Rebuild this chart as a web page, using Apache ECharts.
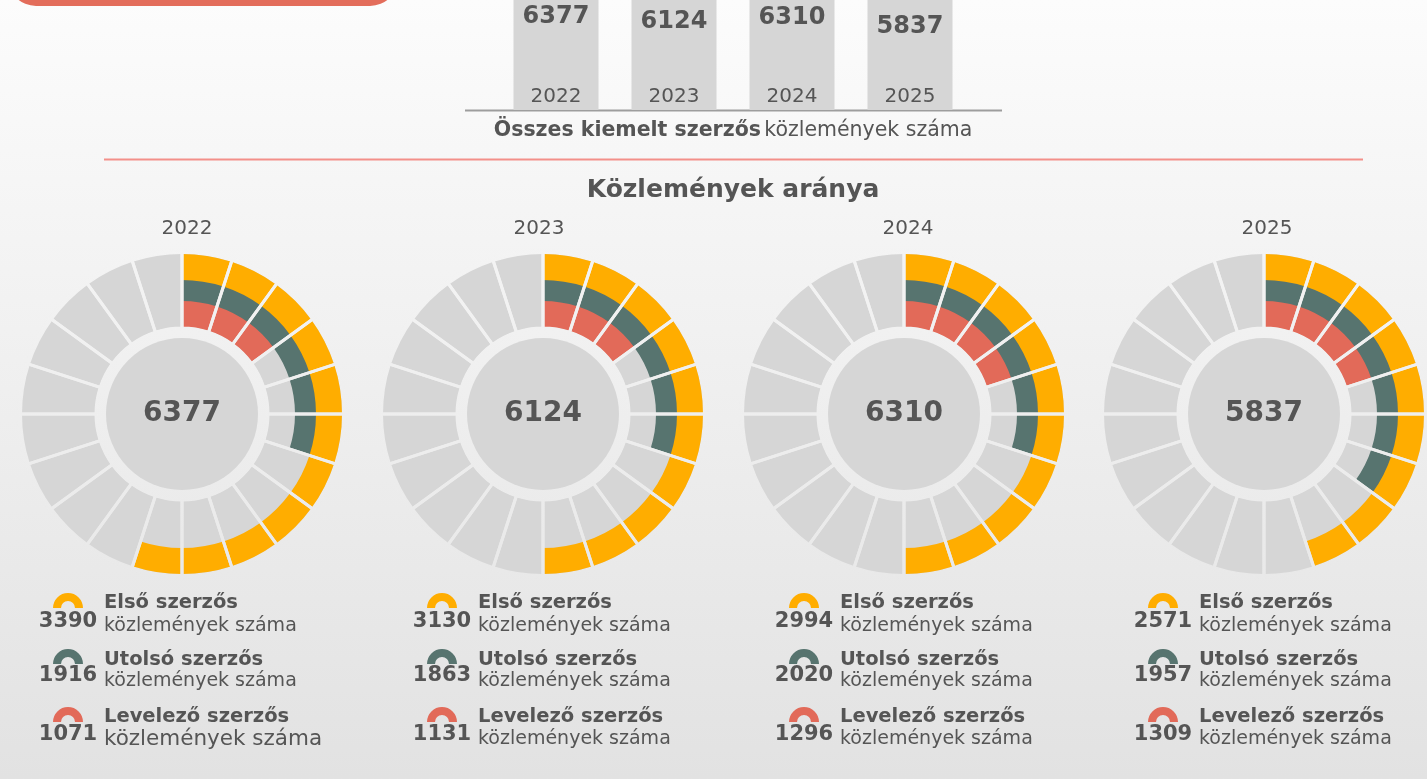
<!DOCTYPE html>
<html>
<head>
<meta charset="utf-8">
<script src="https://cdn.jsdelivr.net/npm/echarts@6/dist/echarts.min.js"></script>
<style>
  html, body { margin: 0; padding: 0; }
  body { background: linear-gradient(#fcfcfc, #e2e2e2); }
  #chart { width: 1427px; height: 779px; }
</style>
</head>
<body>
<div id="chart"></div>
<script>
const years = ['2022', '2023', '2024', '2025']
const totals = [6377, 6124, 6310, 5837]
const firstAuthor = [3390, 3130, 2994, 2571]
const lastAuthor = [1916, 1863, 2020, 1957]
const corrAuthor = [1071, 1131, 1296, 1309]
// filled segments (out of 20) in each ring, as drawn in the picture
const firstSegs = [11, 10, 10, 9]
const lastSegs = [6, 6, 6, 7]
const corrSegs = [3, 3, 4, 4]
const segCount = 20

const FONT = 'DejaVu Sans'
const TXT = '#555555'
const ORANGE = '#ffad00'
const TEAL = '#57746f'
const RED = '#e26a59'
const GRAY = '#d6d6d6'

const donutX = [182, 543, 904, 1264]
const donutY = 414
const yearLabelX = [187, 539, 908, 1267]
const legendX = [68, 442, 804, 1163]

const bgGrad = {
  type: 'linear', x: 0, y: 0, x2: 0, y2: 779, global: true,
  colorStops: [{ offset: 0, color: '#fcfcfc' }, { offset: 1, color: '#e2e2e2' }]
}

const chart = echarts.init(document.getElementById('chart'))

function ring(i, radius, filled, color, extra) {
  return Object.assign({
    type: 'pie',
    center: [donutX[i], donutY],
    radius: radius,
    silent: true,
    animation: false,
    label: { show: false },
    labelLine: { show: false },
    emphasis: { disabled: true },
    itemStyle: { borderWidth: 0 },
    data: Array.from({ length: segCount }, (_, k) => ({
      value: 1,
      itemStyle: { color: k < filled ? color : 'rgba(0,0,0,0)' }
    }))
  }, extra || {})
}

const series = [
  {
    type: 'bar',
    data: totals,
    barWidth: 85,
    silent: true,
    animation: false,
    itemStyle: { color: GRAY },
    z: 1,
    label: {
      show: true, position: 'insideTop', distance: 20,
      fontSize: 24, fontWeight: 'bold', fontFamily: FONT, color: TXT
    }
  },
  {
    type: 'pictorialBar',
    data: totals,
    symbol: 'circle',
    symbolSize: [85, 20],
    symbolPosition: 'end',
    symbolOffset: [0, '-50%'],
    silent: true,
    animation: false,
    itemStyle: { color: '#cccccc' },
    z: 1
  }
]

years.forEach((y, i) => {
  series.push(ring(i, [87, 160], segCount, GRAY))
  series.push(ring(i, [87, 114], corrSegs[i], RED))
  series.push(ring(i, [113, 135], lastSegs[i], TEAL))
  series.push(ring(i, [134, 160], firstSegs[i], ORANGE))
  series.push(ring(i, [86, 163], 0, GRAY, {
    itemStyle: { borderWidth: 3, borderColor: bgGrad }
  }))
  series.push({
    type: 'pie',
    center: [donutX[i], donutY],
    radius: [0, 76],
    silent: true,
    animation: false,
    emphasis: { disabled: true },
    labelLine: { show: false },
    itemStyle: { color: GRAY, borderWidth: 0 },
    label: {
      show: true, position: 'center', formatter: '{c}', padding: [14, 0, 0, 0],
      fontSize: 28, fontWeight: 'bold', fontFamily: FONT, color: TXT
    },
    data: [{ value: totals[i], name: y }]
  })
})

function txt(x, y, text, size, bold, align) {
  return {
    type: 'text', x: x, y: y, silent: true,
    style: {
      text: text, fill: TXT, fontFamily: FONT, fontSize: size,
      fontWeight: bold ? 'bold' : 'normal',
      align: align || 'center', verticalAlign: 'middle',
      textAlign: align || 'center', textVerticalAlign: 'middle'
    }
  }
}

const graphics = [
  { type: 'rect', silent: true, shape: { x: 8, y: -50, width: 390, height: 56, r: 28 }, style: { fill: '#e36d5b' } },
  { type: 'line', silent: true, shape: { x1: 465, y1: 110.5, x2: 1002, y2: 110.5 }, style: { stroke: '#9d9d9d', lineWidth: 2 } },
  {
    type: 'text', x: 733, y: 131, silent: true,
    style: {
      text: '{b|Összes kiemelt szerzős} {r|közlemények száma}',
      align: 'center', verticalAlign: 'middle', textAlign: 'center', textVerticalAlign: 'middle',
      rich: {
        b: { fontFamily: FONT, fontSize: 20.5, fontWeight: 'bold', fill: TXT, color: TXT },
        r: { fontFamily: FONT, fontSize: 20.5, fill: TXT, color: TXT }
      }
    }
  },
  { type: 'line', silent: true, shape: { x1: 104, y1: 159.5, x2: 1363, y2: 159.5 }, style: { stroke: '#f3908a', lineWidth: 2 } },
  txt(733, 190, 'Közlemények aránya', 25, true)
]

const rowIcon = [608, 664, 722]
const rowNum = [622, 676, 735]
const rowHead = [603, 660, 717]
const rowSub = [626, 681, 739]
const rowName = ['Első szerzős', 'Utolsó szerzős', 'Levelező szerzős']
const rowColor = [ORANGE, TEAL, RED]

years.forEach((y, i) => {
  graphics.push(txt(yearLabelX[i], 229, y, 20, false))
  const vals = [firstAuthor[i], lastAuthor[i], corrAuthor[i]]
  vals.forEach((v, r) => {
    graphics.push({
      type: 'sector', silent: true,
      shape: { cx: legendX[i], cy: rowIcon[r], r: 15, r0: 7, startAngle: Math.PI, endAngle: Math.PI * 2 },
      style: { fill: rowColor[r] }
    })
    graphics.push(txt(legendX[i], rowNum[r], String(v), 21, true))
    graphics.push(txt(legendX[i] + 36, rowHead[r], rowName[r], 19.5, true, 'left'))
    const big = i === 0 && r === 2
    graphics.push(txt(legendX[i] + 36, rowSub[r], 'közlemények száma', big ? 21.5 : 19, false, 'left'))
  })
})

chart.setOption({
  backgroundColor: 'transparent',
  animation: false,
  grid: { left: 497, width: 472, top: -87, height: 197, outerBoundsMode: 'none', containLabel: false },
  xAxis: {
    type: 'category', data: years, z: 10,
    axisLine: { show: false }, axisTick: { show: false },
    axisLabel: { inside: true, margin: 3, fontSize: 20, fontFamily: FONT, color: TXT }
  },
  yAxis: { type: 'value', min: 0, max: 10000, show: false, splitLine: { show: false } },
  series: series,
  graphic: { elements: graphics }
})

window.addEventListener('resize', () => chart.resize())
</script>
</body>
</html>
